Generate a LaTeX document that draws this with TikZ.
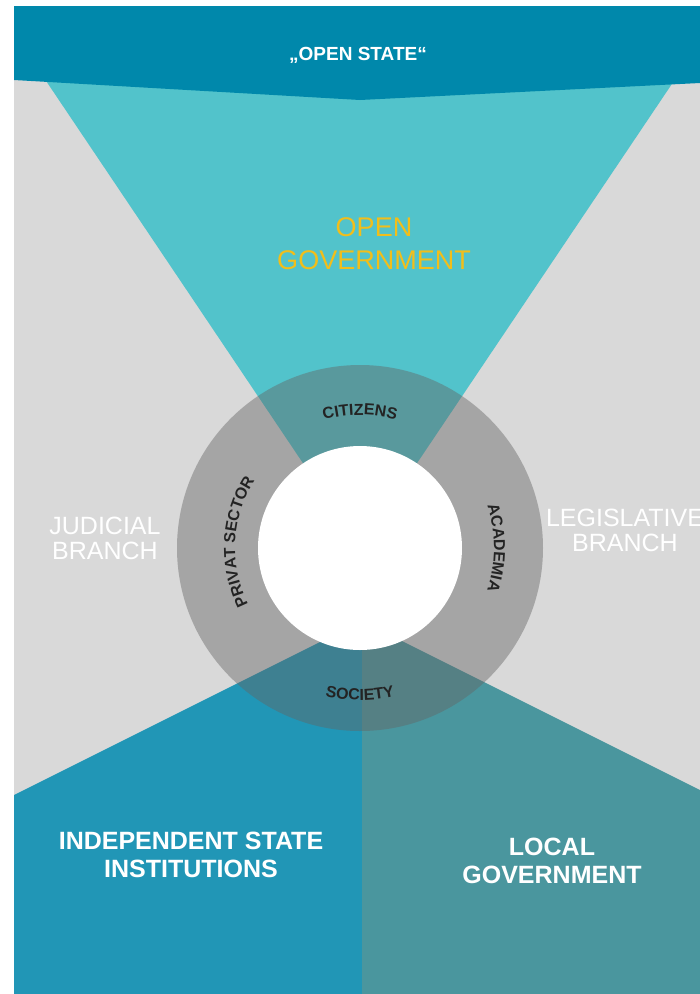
\documentclass[tikz,border=0pt]{standalone}
\usepackage{fontspec}
\setmainfont{Liberation Sans}
\usetikzlibrary{decorations.text}

\definecolor{bannerblue}{RGB}{0,136,171}
\definecolor{govcyan}{RGB}{82,195,203}
\definecolor{branchgray}{RGB}{217,217,217}
\definecolor{instblue}{RGB}{33,150,182}
\definecolor{localteal}{RGB}{74,150,158}
\definecolor{govyellow}{RGB}{242,190,26}
\definecolor{ringshade}{RGB}{100,100,100}
\definecolor{ringtext}{RGB}{35,35,35}

\newcommand{\ringfont}{\bfseries\fontsize{16}{16}\selectfont\color{ringtext}}

\tikzset{
    branchtext/.style={text=white, align=center, font=\fontsize{25}{25}\selectfont},
    boldtext/.style={text=white, align=center, font=\bfseries\fontsize{25}{28}\selectfont},
    ringlabel/.style={decorate, decoration={text along path, text align=center, text={|\ringfont|#1}}}
}

\begin{document}
\begin{tikzpicture}[x=1pt, y=1pt]
        \useasboundingbox (0, 0) rectangle (700, -994);
        \fill[white](0, 0) rectangle (700, -994);
        \coordinate (c) at (360, -548);

        %%background
        \fill[branchgray](14, -6) rectangle (700, -994);
        %%funnel
        \fill[govcyan](32, -60) -- (688, -60) -- (c) -- cycle;
        %%bottom
        \fill[instblue](14, -795) -- (362, -621) -- (362, -994) -- (14, -994) -- cycle;
        \fill[localteal](362, -621) -- (700, -790) -- (700, -994) -- (362, -994) -- cycle;
        %%banner
        \fill[bannerblue](14, -6) -- (700, -6) -- (700, -83) -- (360, -100) -- (14, -80) -- cycle;

        %%ring
        \fill[ringshade, fill opacity=.44](c) circle (183);
        \fill[white](c) circle (102);

        %%ring labels
        \path[ringlabel={CITIZENS}]([shift={(120:133)}]c) arc[start angle=120, end angle=60, radius=133];
        \path[ringlabel={PRIVAT SECTOR}]([shift={(222:125)}]c) arc[start angle=222, end angle=132, radius=125];
        \path[ringlabel={ACADEMIA}]([shift={(45:134)}]c) arc[start angle=45, end angle=-45, radius=134];
        \path[ringlabel={SOCIETY}]([shift={(235:152)}]c) arc[start angle=235, end angle=305, radius=152];

        %%texts
        \node (state) at (358, -55){\textcolor{white}{\bfseries\fontsize{19}{19}\selectfont „OPEN STATE“}};
        \node[align=center, text=govyellow, font=\fontsize{27}{33}\selectfont] (gov) at (374, -244){OPEN\\GOVERNMENT};
        \node[branchtext] (judicial) at (105, -538){JUDICIAL\\BRANCH};
        \node[branchtext] (legislative) at (625, -530){LEGISLATIVE\\BRANCH};
        \node[boldtext] (institutions) at (191, -855){INDEPENDENT STATE\\INSTITUTIONS};
        \node[boldtext] (local) at (552, -861){LOCAL\\GOVERNMENT};

    \end{tikzpicture}
\end{document}
